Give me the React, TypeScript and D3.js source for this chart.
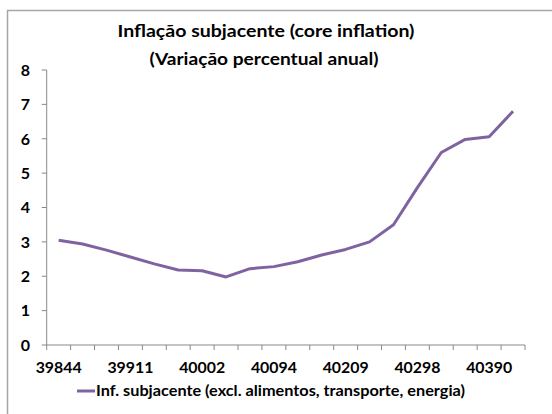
import React from "react";
import * as d3 from "d3";

const categories: string[] = [
  "39844", "39865", "39888", "39911", "39941", "39972", "40002", "40033", "40064", "40094",
  "40132", "40171", "40209", "40239", "40268", "40298", "40329", "40359", "40390", "40421",
];
const coreInflation: number[] = [
  3.05, 2.94, 2.76, 2.56, 2.36, 2.18, 2.16, 1.98, 2.22, 2.28,
  2.42, 2.62, 2.78, 3.0, 3.5, 4.58, 5.6, 5.98, 6.06, 6.8,
];
const yTicks: number[] = [0, 1, 2, 3, 4, 5, 6, 7, 8];
const labelEvery = 3;
const titleLines: string[] = ["Inflação subjacente (core inflation)", "(Variação percentual anual)"];
const legendLabel = "Inf. subjacente (excl. alimentos, transporte, energia)";

const W = 552;
const H = 414;
const font = "Lato, 'Open Sans', sans-serif";
const lineColor = "#7F63A1";
const axisColor = "#898989";

export default function App() {
  const left = 46.7;
  const right = 525;
  const top = 70;
  const bottom = 345;

  const x = d3.scaleBand<string>().domain(categories).range([left, right]);
  const y = d3.scaleLinear().domain([0, 8]).range([bottom, top]);

  const line = d3
    .line<number>()
    .x((_, i) => (x(categories[i]) as number) + x.bandwidth() / 2)
    .y((d) => y(d));

  const tickXs = categories.map((c) => x(c) as number).concat([right]);

  return (
    <svg
      width={W}
      height={H}
      style={{ position: "absolute", left: 0, top: 0, background: "#fff" }}
    >
      <rect x={7.5} y={10.5} width={W + 10} height={H + 10} fill="#fff" stroke="#a6a6a6" strokeWidth={1.5} />
      {/* title */}
      <text x={266} y={37} textAnchor="middle" fontFamily={font} fontWeight="bold" fontSize={17.5} fill="#000" textLength={297} lengthAdjust="spacingAndGlyphs">
        {titleLines[0]}
      </text>
      <text x={264} y={65} textAnchor="middle" fontFamily={font} fontWeight="bold" fontSize={17.5} fill="#000" textLength={229} lengthAdjust="spacingAndGlyphs">
        {titleLines[1]}
      </text>
      {/* y axis */}
      <line x1={left} x2={left} y1={top} y2={bottom} stroke={axisColor} strokeWidth={1} />
      {yTicks.map((t) => (
        <g key={t}>
          <line x1={left - 5} x2={left} y1={y(t)} y2={y(t)} stroke={axisColor} strokeWidth={1} />
          <text x={30} y={y(t)} dy="0.36em" textAnchor="end" fontFamily={font} fontWeight="bold" fontSize={16} fill="#000">
            {t}
          </text>
        </g>
      ))}
      {/* x axis */}
      <line x1={left} x2={right} y1={bottom} y2={bottom} stroke={axisColor} strokeWidth={1} />
      {tickXs.map((tx, i) => (
        <line key={i} x1={tx} x2={tx} y1={bottom} y2={bottom + 5} stroke={axisColor} strokeWidth={1} />
      ))}
      {categories.map((c, i) =>
        i % labelEvery === 0 ? (
          <text key={c} x={(x(c) as number) + x.bandwidth() / 2} y={373} textAnchor="middle" fontFamily={font} fontWeight="bold" fontSize={16} fill="#000" textLength={46} lengthAdjust="spacingAndGlyphs">
            {c}
          </text>
        ) : null
      )}
      {/* series */}
      <path d={line(coreInflation) ?? ""} fill="none" stroke={lineColor} strokeWidth={3} strokeLinejoin="round" />
      {/* legend */}
      <line x1={77} x2={95} y1={391} y2={391} stroke={lineColor} strokeWidth={3} />
      <text x={96} y={396} fontFamily={font} fontWeight="bold" fontSize={15.5} fill="#000" textLength={369} lengthAdjust="spacingAndGlyphs">
        {legendLabel}
      </text>
    </svg>
  );
}
